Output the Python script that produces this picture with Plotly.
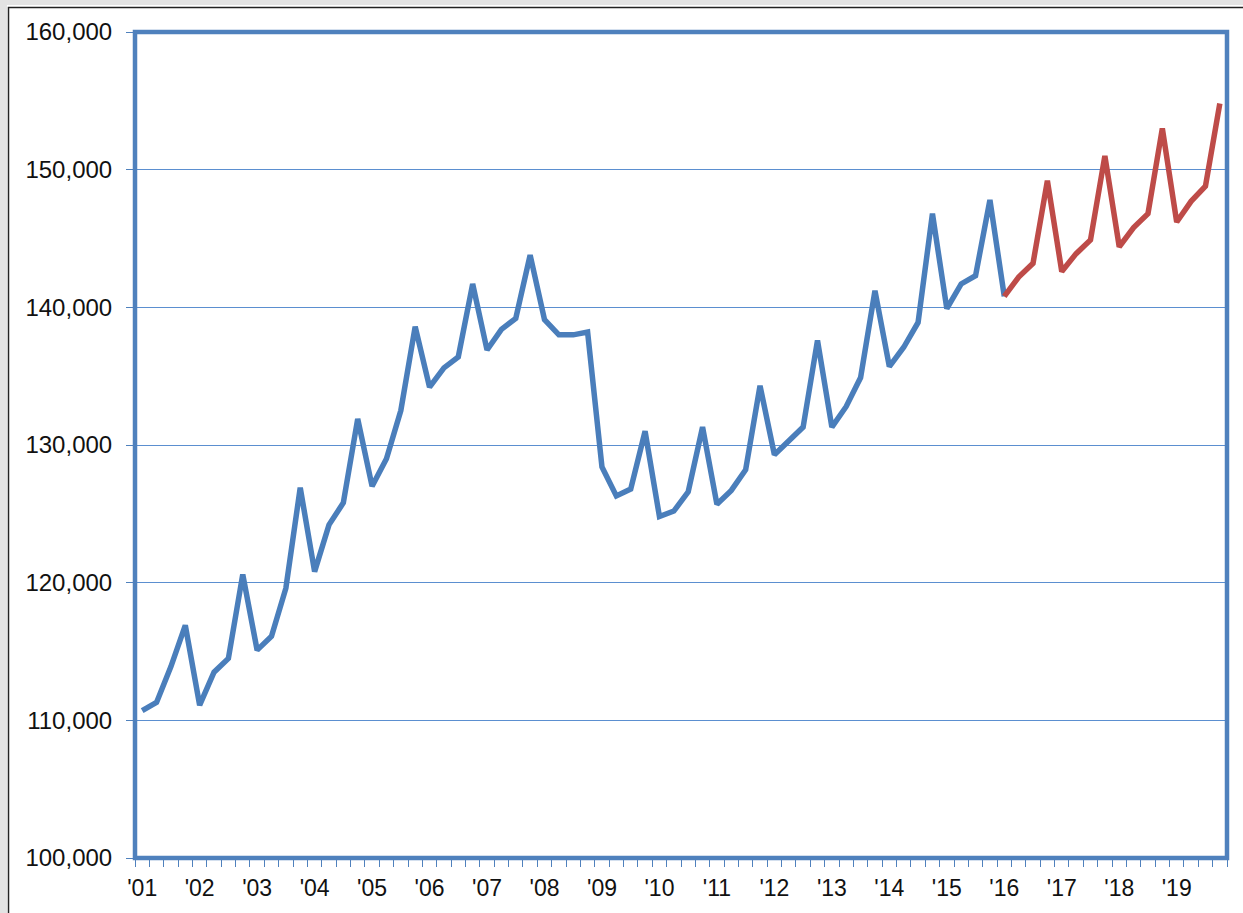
import plotly.graph_objects as go

# ---- data (quarterly, 2001Q1 .. 2019Q4) ----
years = [f"{y:02d}" for y in range(1, 20)]
quarters = [f"20{y}Q{q}" for y in years for q in (1, 2, 3, 4)]

# actual series 2001Q1 .. 2016Q1
actual = [
    110700, 111300, 113900, 116900,
    111100, 113500, 114500, 120600,
    115100, 116100, 119600, 126900,
    120800, 124200, 125800, 131900,
    127000, 129000, 132500, 138600,
    134200, 135600, 136400, 141700,
    136900, 138400, 139200, 143800,
    139100, 138000, 138000, 138200,
    128400, 126300, 126800, 131000,
    124800, 125200, 126600, 131300,
    125700, 126700, 128200, 134300,
    129300, 130300, 131300, 137600,
    131300, 132800, 134900, 141200,
    135700, 137100, 138900, 146800,
    139900, 141700, 142300, 147800,
    140800,
]
# forecast series 2016Q1 .. 2019Q4
forecast = [
    140800, 142200, 143200, 149200,
    142600, 143900, 144900, 151000,
    144400, 145800, 146800, 153000,
    146200, 147700, 148800, 154800,
]
year_labels = ["'" + y for y in years]

idx = list(range(len(quarters)))
x_actual = idx[:len(actual)]
x_fore = idx[len(actual) - 1:len(actual) - 1 + len(forecast)]

BLUE = "#4a7ebb"
RED = "#be4b48"
FRAME = "#4f81bd"
GRID = "#5b8fd0"
FONT = "Arial, Liberation Sans, sans-serif"

fig = go.Figure()
fig.add_trace(go.Scatter(x=x_actual, y=actual, mode="lines",
                         line=dict(color=BLUE, width=5.5),
                         text=quarters[:len(actual)], hoverinfo="text+y",
                         showlegend=False))
fig.add_trace(go.Scatter(x=x_fore, y=forecast, mode="lines",
                         line=dict(color=RED, width=5.5),
                         text=quarters[len(actual) - 1:], hoverinfo="text+y",
                         showlegend=False))

W, H = 1243, 913
L, R, T, B = 135, 16, 32, 55
pw, ph = W - L - R, H - T - B

def px_x(p):
    return (p - L) / pw

def px_y(p):
    return 1 - (p - T) / ph

shapes = [
    # outer page frame and gray margin strips
    dict(type="rect", xref="paper", yref="paper", x0=px_x(0), x1=px_x(7),
         y0=px_y(H + 5), y1=px_y(0), fillcolor="#e3e3e3", line=dict(width=0), layer="below"),
    dict(type="rect", xref="paper", yref="paper", x0=px_x(0), x1=px_x(W + 5),
         y0=px_y(5), y1=px_y(0), fillcolor="#e3e3e3", line=dict(width=0), layer="below"),
    dict(type="rect", xref="paper", yref="paper", x0=px_x(8.5), x1=px_x(W + 10),
         y0=px_y(H + 10), y1=px_y(7.5), fillcolor="rgba(0,0,0,0)",
         line=dict(color="#222222", width=1.5), layer="below"),
    # plot-area frame
    dict(type="rect", xref="paper", yref="paper", x0=0, x1=1, y0=0, y1=1,
         line=dict(color=FRAME, width=4.5), layer="above"),
]

fig.update_layout(
    width=W, height=H,
    margin=dict(l=L, r=R, t=T, b=B),
    paper_bgcolor="white", plot_bgcolor="white",
    shapes=shapes,
    font=dict(family=FONT, color="#111111"),
    xaxis=dict(
        range=[-0.5, len(quarters) - 0.5],
        tickmode="array",
        tickvals=idx[::4],
        ticktext=year_labels,
        ticks="",
        showgrid=False, zeroline=False, showline=False,
        tickfont=dict(size=23, family=FONT, color="#111111"),
        ticklabelstandoff=14,
        minor=dict(tickvals=[i - 0.5 for i in idx] + [idx[-1] + 0.5],
                   ticks="outside", ticklen=8, tickcolor=FRAME, tickwidth=1,
                   showgrid=False),
    ),
    yaxis=dict(
        range=[100000, 160000],
        tickmode="linear", tick0=100000, dtick=10000,
        tickformat=",",
        ticks="outside", ticklen=8, tickcolor=FRAME, tickwidth=1,
        showgrid=True, gridcolor=GRID, gridwidth=1,
        zeroline=False, showline=False,
        tickfont=dict(size=24, family=FONT, color="#111111"),
        ticklabelstandoff=9,
    ),
)

fig.write_html("out.html", config={"displayModeBar": False},
               post_script="document.body.style.margin='0px';")
